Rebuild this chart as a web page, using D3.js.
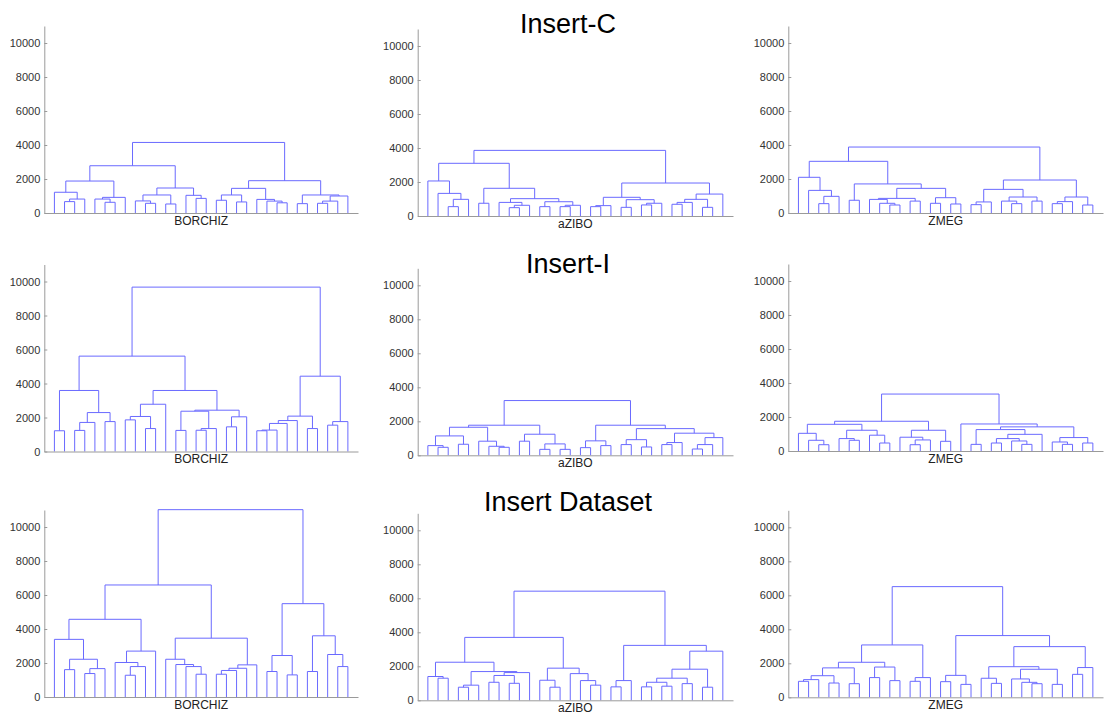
<!DOCTYPE html>
<html>
<head>
<meta charset="utf-8">
<script src="https://cdn.jsdelivr.net/npm/d3@7"></script>
<style>
  body { margin: 0; background: #fff; }
  svg { display: block; }
</style>
</head>
<body>
<svg id="chart" width="1106" height="715"></svg>
<script>
// tree nodes: [height, left, right], a leaf is L
const L = 0;

const titles = ['Insert-C', 'Insert-I', 'Insert Dataset'];
const labels = ['BORCHIZ', 'aZIBO', 'ZMEG'];
const yTicks = [0, 2000, 4000, 6000, 8000, 10000];

const insertC_BORCHIZ = [4150,
  [2780,
    [1880, [1220, L, [820, [670, L, L], L]], [920, [820, L, [630, L, L]], L]],
    [1470, [1060, [710, L, [570, L, L]], [530, L, L]], [1040, L, [860, L, L]]]],
  [1900,
    [1450, [1060, [750, L, L], [650, L, L]], [800, L, [700, L, [600, L, L]]]],
    [1060, [550, L, L], [1000, [700, [570, L, L], L], L]]]];

const insertC_aZIBO = [3860,
  [3100,
    [2060, L, [1330, L, [980, [550, L, L], L]]],
    [1630, [750, L, L], [1020, [800, L, [630, [490, L, L], L]], [840, [550, L, L], [630, [550, L, L], L]]]]],
  [1940,
    [1100, [610, [550, L, L], L], [960, [510, L, L], [750, [650, L, L], L]]],
    [1290, [980, [800, [690, L, L], L], [510, L, L]], L]]];

const insertC_ZMEG = [3880,
  [3040,
    [2100, L, [1330, L, [980, [550, L, L], L]]],
    [1710, [750, L, L], [1450, [860, [800, L, [570, L, [470, L, L]]], [700, L, L]], [900, [570, L, L], [530, L, L]]]]],
  [1940,
    [1390, [650, [490, L, L], L], [940, [700, L, [550, L, L]], [700, L, L]]],
    [940, [670, [550, L, L], L], [470, L, L]]]];

const insertI_BORCHIZ = [9670,
  [5610,
    [3590, [1220, L, L], [2290, [1710, [1240, L, L], L], [1760, L, L]]],
    [3590, [2780, [2060, [1860, L, L], [1350, L, L]], L],
      [2430, [2370, [1240, L, L], [1350, [1250, L, L], L]], [2040, [1450, L, L], L]]]],
  [4430, [2080, [1820, [1650, [1260, [1220, L, L], L], L], L], [1350, L, L]], [1760, [1550, L, L], L]]];

const insertI_aZIBO = [3220,
  [1770,
    [1650, [1140, [570, L, [470, L, L]], [650, L, L]], [830, L, [530, L, [470, L, L]]]],
    [1240, [830, L, L], [670, [350, L, L], [350, L, L]]]],
  [1770,
    [850, [450, L, L], [570, L, L]],
    [1570, [920, [630, L, L], [490, L, L]], [1300, [750, [630, L, L], L], [1040, [630, [370, L, L], L], L]]]]];

const insertI_ZMEG = [3350,
  [1750,
    [1570, [1040, L, [630, L, [370, L, L]]], [1220, [730, L, [630, L, L]], [930, L, [470, L, L]]]],
    [1220, [810, L, [650, [370, L, L], L]], [570, L, L]]],
  [1590, L,
    [1420, [1260, [390, L, L], [980, [730, [470, L, L], [590, L, [390, L, L]]], L]],
      [790, [530, L, [390, L, L]], [470, L, L]]]]];

const dataset_BORCHIZ = [11020,
  [6590,
    [4570, [3390, L, [2220, [1610, L, L], [1670, [1380, L, L], L]]], [2700, [2030, L, [1790, [1280, L, L], L]], L]],
    [3460, [2220, L, [1910, L, [1790, L, [1340, L, L]]]], [1890, [1690, [1560, [1340, L, L], L], L], L]]],
  [5490, [2440, [1500, L, L], [1300, L, L]], [3600, [1500, L, L], [2500, L, [1790, L, L]]]]];

const dataset_aZIBO = [6420,
  [3700,
    [2240, [1400, L, [1300, L, L]], [1690, [890, [770, L, L], L], [1630, [1460, [1060, L, L], [1000, L, L]], L]]],
    [1890, [1180, L, [770, L, L]], [1570, L, [1160, L, [890, L, L]]]]],
  [3230, [1160, [790, L, L], L],
    [2890, [1830, [1300, [1060, [790, L, L], [830, L, L]], [980, L, L]], [770, L, L]], L]]];

const dataset_ZMEG = [6510,
  [3080,
    [2060, [1730, [1270, [1040, [940, L, L], L], [840, L, L]], [800, L, L]], [1780, [1160, L, L], [980, L, L]]],
    [1160, [940, L, L], L]],
  [3630,
    [1290, [920, L, L], [760, L, L]],
    [2980, [1800, [1120, L, [820, L, L]], [1650, [1080, L, [880, L, [800, L, L]]], [760, L, L]]],
      [1750, [1350, L, L], L]]]];

const trees = [
  [insertC_BORCHIZ, insertC_aZIBO, insertC_ZMEG],
  [insertI_BORCHIZ, insertI_aZIBO, insertI_ZMEG],
  [dataset_BORCHIZ, dataset_aZIBO, dataset_ZMEG]
];

// panel placement
const colX = [[44.3, 358], [417.7, 733], [788.3, 1103]];
const rowBottom = [[213, 216, 213], [451.5, 455.3, 451], [697, 700.3, 697.3]];
const titleY = [33, 272.5, 511];
const pxPer1000 = 17;

const svg = d3.select('#chart');
const font = 'Liberation Sans, Arial, Helvetica, sans-serif';

function collectLinks(node, counter, links) {
  if (node === L) {
    counter.i += 1;
    return { x: counter.i, h: 0 };
  }
  const a = collectLinks(node[1], counter, links);
  const b = collectLinks(node[2], counter, links);
  links.push({ a: a, b: b, h: node[0] });
  return { x: (a.x + b.x) / 2, h: node[0] };
}

trees.forEach((row, r) => {
  row.forEach((tree, c) => {
    const bottom = rowBottom[r][c];
    const x = d3.scaleLinear().domain([0, 31]).range(colX[c]);
    const y = d3.scaleLinear().domain([0, 11000]).range([bottom, bottom - 11 * pxPer1000]);

    const g = svg.append('g');

    const links = [];
    collectLinks(tree, { i: 0 }, links);

    g.selectAll('path.link')
      .data(links)
      .join('path')
      .attr('class', 'link')
      .attr('d', (d) => `M${x(d.a.x)},${y(d.a.h)}V${y(d.h)}H${x(d.b.x)}V${y(d.b.h)}`)
      .attr('fill', 'none')
      .attr('stroke', '#6a6aff')
      .attr('stroke-width', 1);

    const yAxis = g.append('g')
      .attr('transform', `translate(${colX[c][0]},0)`)
      .call(d3.axisLeft(y).tickValues(yTicks).tickFormat(d3.format('d'))
        .tickSizeInner(-3).tickSizeOuter(0).tickPadding(4));
    yAxis.select('.domain').attr('stroke', '#9a9a9a');
    yAxis.selectAll('.tick line').attr('stroke', '#9a9a9a');
    yAxis.selectAll('.tick text')
      .attr('fill', '#333')
      .style('font-family', font)
      .style('font-size', '11px');

    const xAxis = g.append('g')
      .attr('transform', `translate(0,${bottom})`)
      .call(d3.axisBottom(x).tickValues([]).tickSizeOuter(0));
    xAxis.select('.domain').attr('stroke', '#9a9a9a');

    g.append('text')
      .attr('x', (colX[c][0] + colX[c][1]) / 2)
      .attr('y', bottom + 11.5)
      .attr('text-anchor', 'middle')
      .style('font-family', font)
      .style('font-size', '12px')
      .attr('fill', '#222')
      .text(labels[c]);
  });

  svg.append('text')
    .attr('x', 568)
    .attr('y', titleY[r])
    .attr('text-anchor', 'middle')
    .style('font-family', font)
    .style('font-size', '27px')
    .attr('fill', '#000')
    .text(titles[r]);
});
</script>
</body>
</html>
